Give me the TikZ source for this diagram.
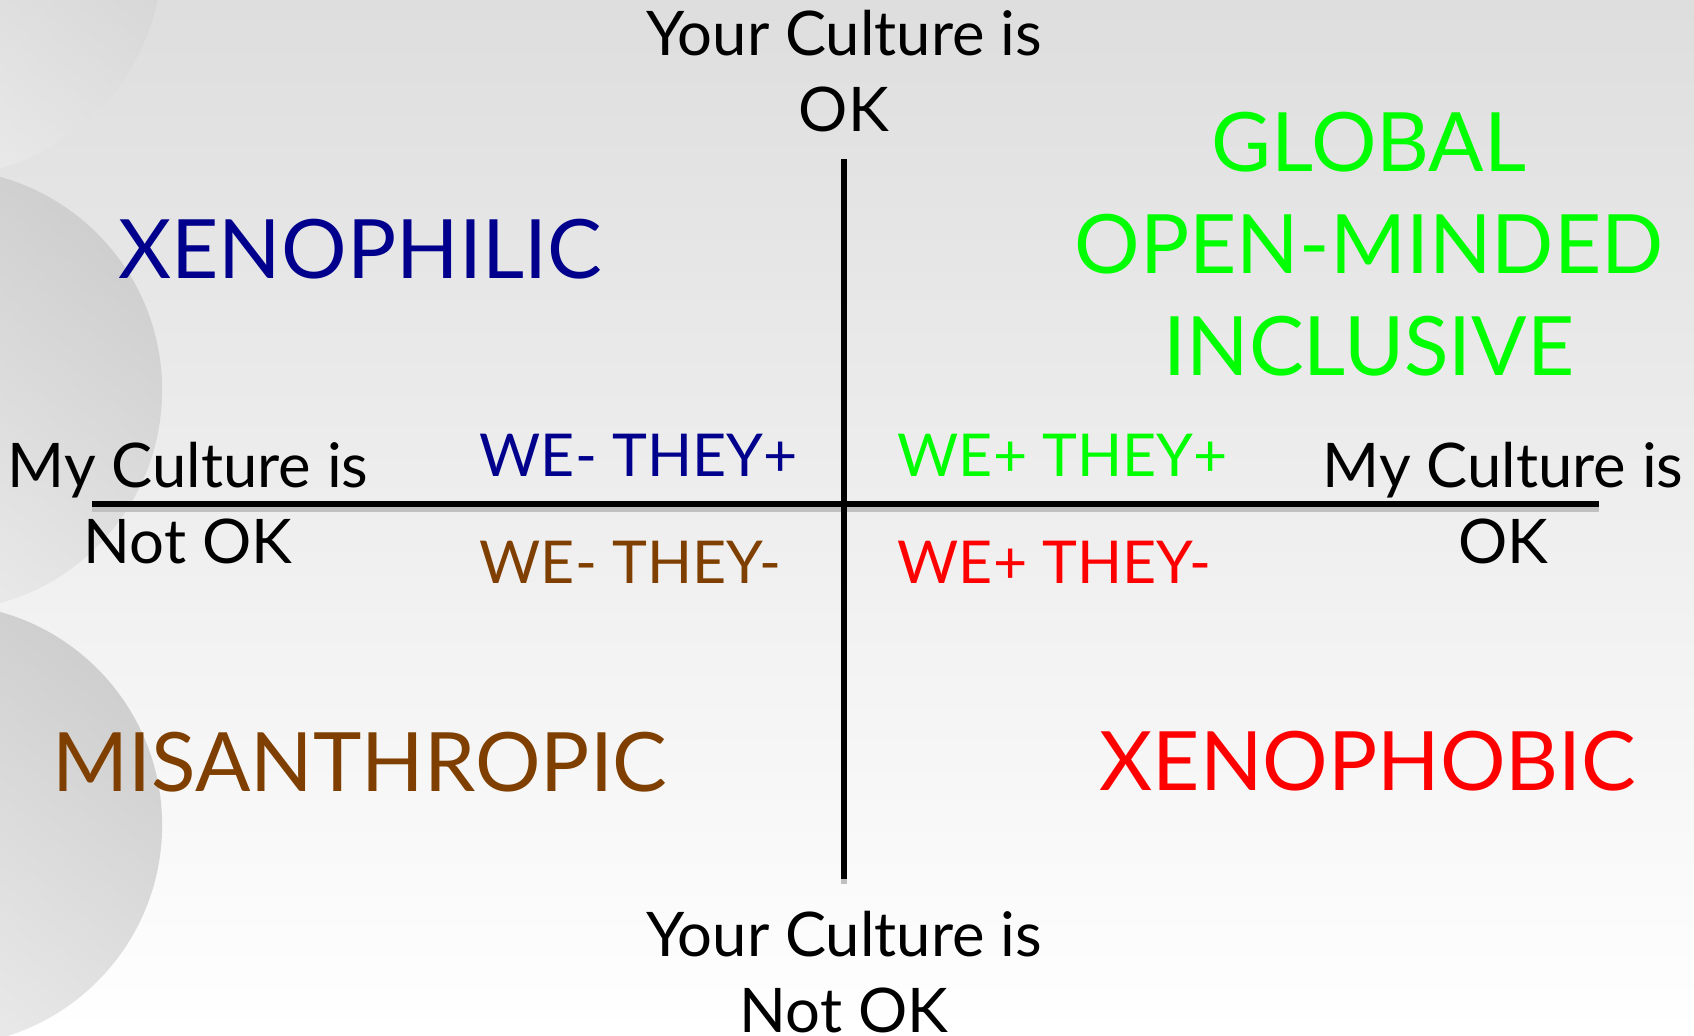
\documentclass[tikz,border=0pt]{standalone}
\usepackage{fontspec}
\setmainfont{Lato}

\definecolor{navyblue}{RGB}{0,0,140}
\definecolor{limegreen}{RGB}{0,255,0}
\definecolor{purered}{RGB}{255,0,0}
\definecolor{rustbrown}{RGB}{127,63,0}
\definecolor{lineshadow}{RGB}{192,192,192}

\tikzset{
  axislabel/.style={align=center,inner sep=0pt,font=\fontsize{17.5}{21.6}\selectfont},
  quadrant/.style={inner sep=0pt,font=\fontsize{23.3}{29}\selectfont},
  pairlabel/.style={inner sep=0pt,anchor=base west,font=\fontsize{16.8}{20}\selectfont},
  axisline/.style={line width=1.7pt,black},
  axisshadow/.style={line width=1.7pt,lineshadow}
}

\begin{document}
\begin{tikzpicture}[x=0.01cm,y=-0.01cm]

  \useasboundingbox (0,0) rectangle (1694,1035);
  \clip (0,0) rectangle (1694,1035);
  \shade[top color=black!13,bottom color=white] (0,0) rectangle (1694,1035);
  \foreach \cy in {-45,390,825}
    \shade[top color=black!19,bottom color=black!6,shading angle=-40] (-59,\cy) circle[radius=2.21cm];

  \coordinate (left) at (92,504);
  \coordinate (right) at (1599,504);
  \coordinate (top) at (844,159);
  \coordinate (bottom) at (844,879);

  \draw[axisshadow] ([yshift=-0.05cm]left) -- ([yshift=-0.05cm]right);
  \draw[axisshadow] ([yshift=-0.05cm]top) -- ([yshift=-0.05cm]bottom);
  \draw[axisline] (left) -- (right);
  \draw[axisline] (top) -- (bottom);

  \node[axislabel] (yourok) at (844,71.5) {Your Culture is\\OK};
  \node[axislabel] (yournotok) at (844,972) {Your Culture is\\Not OK};
  \node[axislabel] (mynotok) at (188,503.5) {My Culture is\\Not OK};
  \node[axislabel] (myok) at (1503,503.5) {My Culture is\\OK};

  \node[quadrant,navyblue,anchor=base] (xenophilic) at (360,278) {XENOPHILIC};
  \node[quadrant,limegreen,align=center] (global) at (1369,244.5) {GLOBAL\\OPEN-MINDED\\INCLUSIVE};
  \node[quadrant,rustbrown,anchor=base] (misanthropic) at (360,791) {MISANTHROPIC};
  \node[quadrant,purered,anchor=base] (xenophobic) at (1368,790) {XENOPHOBIC};

  \node[pairlabel,navyblue] (wetheyplus) at (479,476) {WE- THEY+};
  \node[pairlabel,limegreen] (weplustheyplus) at (897,476) {WE+ THEY+};
  \node[pairlabel,rustbrown] (wetheyminus) at (479,583) {WE- THEY-};
  \node[pairlabel,purered] (weplustheyminus) at (897,583) {WE+ THEY-};

\end{tikzpicture}
\end{document}
